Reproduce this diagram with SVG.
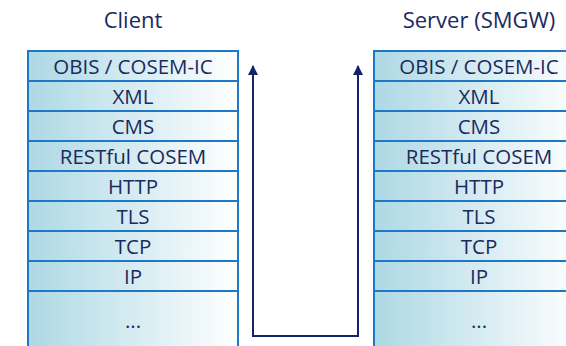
<svg xmlns="http://www.w3.org/2000/svg" width="566" height="346" viewBox="0 0 566 346">
  <style>
    .layer { fill: url(#layerFill); stroke: #1E78C8; stroke-width: 2; }
    .lbl { font-family: "Open Sans", "Liberation Sans", sans-serif; font-size: 20.5px; fill: #1B2A5E; text-anchor: middle; }
    .title { font-family: "Open Sans", "Liberation Sans", sans-serif; font-size: 22px; fill: #1B2A5E; text-anchor: middle; }
    .flow { fill: none; stroke: #14246A; stroke-width: 2; }
  </style>
  <defs>
    <linearGradient id="layerFill" x1="0" y1="0" x2="1" y2="0">
      <stop offset="0" stop-color="#ADD8E4"/>
      <stop offset="1" stop-color="#FFFFFF"/>
    </linearGradient>
    <marker id="head" viewBox="0 0 10 10" refX="9" refY="5" markerWidth="5" markerHeight="5" orient="auto-start-reverse" markerUnits="strokeWidth">
      <path d="M0,0 L10,5 L0,10 z" fill="#14246A"/>
    </marker>
  </defs>

  <!-- client protocol stack -->
  <g id="client">
    <text class="title" x="133" y="28">Client</text>
    <g id="client-obis"><rect class="layer" x="28" y="51" width="210" height="30"/><text class="lbl" x="133" y="74">OBIS / COSEM-IC</text></g>
    <g id="client-xml"><rect class="layer" x="28" y="81" width="210" height="30"/><text class="lbl" x="133" y="104">XML</text></g>
    <g id="client-cms"><rect class="layer" x="28" y="111" width="210" height="30"/><text class="lbl" x="133" y="134">CMS</text></g>
    <g id="client-rest"><rect class="layer" x="28" y="141" width="210" height="30"/><text class="lbl" x="133" y="164">RESTful COSEM</text></g>
    <g id="client-http"><rect class="layer" x="28" y="171" width="210" height="30"/><text class="lbl" x="133" y="194">HTTP</text></g>
    <g id="client-tls"><rect class="layer" x="28" y="201" width="210" height="30"/><text class="lbl" x="133" y="224">TLS</text></g>
    <g id="client-tcp"><rect class="layer" x="28" y="231" width="210" height="30"/><text class="lbl" x="133" y="254">TCP</text></g>
    <g id="client-ip"><rect class="layer" x="28" y="261" width="210" height="30"/><text class="lbl" x="133" y="284">IP</text></g>
    <g id="client-more"><rect class="layer" x="28" y="291" width="210" height="70"/><text class="lbl" x="133" y="328">...</text></g>
  </g>

  <!-- server protocol stack -->
  <g id="server">
    <text class="title" x="479" y="28">Server (SMGW)</text>
    <g id="server-obis"><rect class="layer" x="374" y="51" width="210" height="30"/><text class="lbl" x="479" y="74">OBIS / COSEM-IC</text></g>
    <g id="server-xml"><rect class="layer" x="374" y="81" width="210" height="30"/><text class="lbl" x="479" y="104">XML</text></g>
    <g id="server-cms"><rect class="layer" x="374" y="111" width="210" height="30"/><text class="lbl" x="479" y="134">CMS</text></g>
    <g id="server-rest"><rect class="layer" x="374" y="141" width="210" height="30"/><text class="lbl" x="479" y="164">RESTful COSEM</text></g>
    <g id="server-http"><rect class="layer" x="374" y="171" width="210" height="30"/><text class="lbl" x="479" y="194">HTTP</text></g>
    <g id="server-tls"><rect class="layer" x="374" y="201" width="210" height="30"/><text class="lbl" x="479" y="224">TLS</text></g>
    <g id="server-tcp"><rect class="layer" x="374" y="231" width="210" height="30"/><text class="lbl" x="479" y="254">TCP</text></g>
    <g id="server-ip"><rect class="layer" x="374" y="261" width="210" height="30"/><text class="lbl" x="479" y="284">IP</text></g>
    <g id="server-more"><rect class="layer" x="374" y="291" width="210" height="70"/><text class="lbl" x="479" y="328">...</text></g>
  </g>

  <!-- message path between the stacks -->
  <g id="connectors">
    <path class="flow" d="M253,66 V336 H358 V66" marker-start="url(#head)" marker-end="url(#head)"/>
  </g>
</svg>
